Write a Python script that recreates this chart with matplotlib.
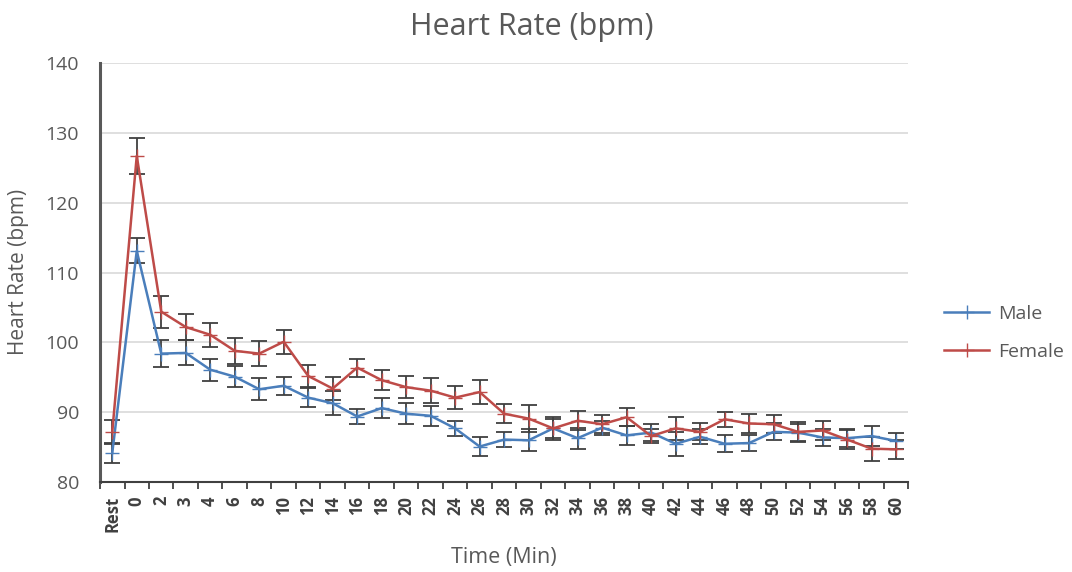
import matplotlib
import matplotlib.pyplot as plt
import numpy as np
from matplotlib.lines import Line2D

matplotlib.use("Agg")

plt.rcParams["font.family"] = ["Open Sans", "DejaVu Sans"]

# Data
times = ["Rest", "0", "2", "3", "4", "6", "8", "10", "12", "14", "16", "18",
         "20", "22", "24", "26", "28", "30", "32", "34", "36", "38", "40",
         "42", "44", "46", "48", "50", "52", "54", "56", "58", "60"]
male = [84.2, 113.1, 98.4, 98.5, 96.1, 95.1, 93.3, 93.8, 92.1, 91.3, 89.4, 90.6,
        89.8, 89.5, 87.7, 85.1, 86.1, 86.0, 87.7, 86.3, 87.8, 86.7, 87.1,
        85.5, 86.5, 85.5, 85.6, 87.2, 87.1, 86.4, 86.3, 86.6, 85.9]
male_err = [1.4, 1.8, 1.9, 1.8, 1.6, 1.5, 1.6, 1.3, 1.4, 1.7, 1.1, 1.4,
            1.5, 1.4, 1.1, 1.4, 1.1, 1.6, 1.4, 1.5, 1.0, 1.4, 1.2,
            1.7, 1.1, 1.2, 1.2, 1.2, 1.2, 1.2, 1.3, 1.4, 1.2]
female = [87.2, 126.7, 104.4, 102.2, 101.1, 98.8, 98.4, 100.1, 95.2, 93.4, 96.4, 94.6,
          93.6, 93.1, 92.1, 92.9, 89.8, 89.1, 87.7, 88.8, 88.3, 89.3, 86.6,
          87.7, 87.2, 89.0, 88.4, 88.3, 87.2, 87.4, 86.1, 84.8, 84.7]
female_err = [1.7, 2.6, 2.3, 1.9, 1.7, 1.9, 1.8, 1.7, 1.6, 1.7, 1.3, 1.4,
              1.6, 1.8, 1.6, 1.7, 1.4, 1.9, 1.7, 1.4, 1.3, 1.3, 1.0,
              1.7, 1.2, 1.1, 1.3, 1.3, 1.4, 1.4, 1.4, 1.7, 1.4]

x = np.arange(len(times))
text_gray = "#595959"
male_color = "#4a7ebb"
female_color = "#be4b48"

fig = plt.figure(figsize=(10.72, 5.72), dpi=100)
ax = fig.add_axes([0.0933, 0.157, 0.754, 0.733])

for vals, errs, col in [(male, male_err, male_color), (female, female_err, female_color)]:
    ax.errorbar(x, vals, yerr=errs, color=col, marker="+", markersize=10,
                linewidth=1.8, ecolor="#404040", elinewidth=1.3, capsize=5.5,
                capthick=1.3, zorder=3)

ax.set_xlim(-0.5, len(times) - 0.5)
ax.set_ylim(80, 140)
ax.set_yticks(np.arange(80, 141, 10))
ax.grid(True, axis="y", color="#d9d9d9", linewidth=1.2)
ax.set_axisbelow(True)

ax.set_xticks(x)
ax.set_xticklabels(times, rotation=90, fontweight="bold", fontsize=12, color="#404040")
ax.set_xticks(np.arange(-0.5, len(times), 1), minor=True)
ax.tick_params(axis="x", which="major", length=0, pad=10)
ax.tick_params(axis="x", which="minor", length=5, width=1.3, color="#404040")
ax.tick_params(axis="y", length=0, labelsize=14, labelcolor=text_gray, pad=15)

for side in ["top", "right"]:
    ax.spines[side].set_visible(False)
ax.spines["left"].set_color("#595959")
ax.spines["left"].set_linewidth(2.2)
ax.spines["bottom"].set_color("#404040")
ax.spines["bottom"].set_linewidth(1.5)

fig.text(0.496, 0.953, "Heart Rate (bpm)", fontsize=22, color=text_gray,
         ha="center", va="center")
fig.text(0.017, 0.524, "Heart Rate (bpm)", fontsize=15, color=text_gray,
         ha="center", va="center", rotation=90)
fig.text(0.470, 0.0245, "Time (Min)", fontsize=15.5, color=text_gray,
         ha="center", va="center")

handles = [Line2D([0], [0], color=male_color, marker="+", markersize=10, linewidth=1.8),
           Line2D([0], [0], color=female_color, marker="+", markersize=10, linewidth=1.8)]
leg = fig.legend(handles, ["Male", "Female"], loc="center left",
                 bbox_to_anchor=(0.881, 0.418), frameon=False, fontsize=14,
                 labelspacing=1.0, handlelength=2.3, handletextpad=0.45,
                 borderpad=0, borderaxespad=0)
for t in leg.get_texts():
    t.set_color(text_gray)

fig.savefig("out.png", dpi=100)
